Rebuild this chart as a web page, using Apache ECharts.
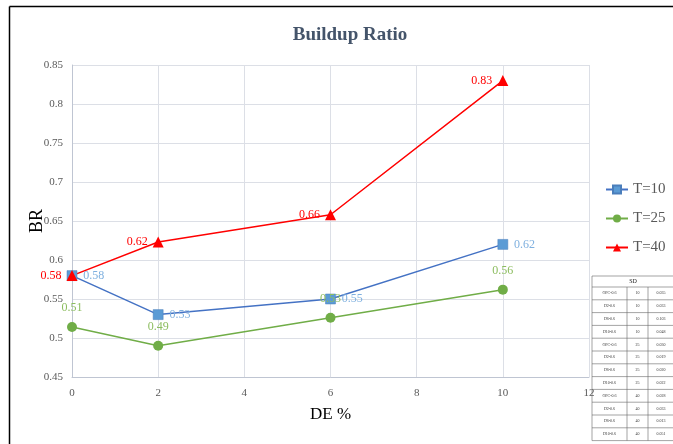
<!DOCTYPE html>
<html>
<head>
    <meta charset="utf-8">
    <title>Buildup Ratio</title>
    <script src="https://cdn.jsdelivr.net/npm/echarts@6/dist/echarts.min.js"></script>
    <style>
        html, body { margin: 0; padding: 0; background: #fff; }
        #main { width: 673px; height: 444px; }
    </style>
</head>
<body>
<div id="main"></div>
<script>
    // x values (DE %)
    var deValues = [0, 2, 6, 10];
    // BR per temperature
    var t10 = [0.58, 0.53, 0.55, 0.62];
    var t25 = [0.514, 0.49, 0.526, 0.562];
    var t40 = [0.58, 0.623, 0.658, 0.83];

    // SD table
    var sdNames = ['OPC-0.6', 'D2-0.6', 'D6-0.6', 'D10-0.6', 'OPC-0.6', 'D2-0.6', 'D6-0.6', 'D10-0.6', 'OPC-0.6', 'D2-0.6', 'D6-0.6', 'D10-0.6'];
    var sdT = [10, 10, 10, 10, 25, 25, 25, 25, 40, 40, 40, 40];
    var sdValues = ['0.035', '0.033', '0.103', '0.048', '0.030', '0.019', '0.020', '0.022', '0.028', '0.033', '0.013', '0.051'];

    var serif = '"Liberation Serif", "DejaVu Serif", serif';

    function pairs(ys) {
        return deValues.map(function (x, i) { return [x, ys[i]]; });
    }

    // build the little SD table out of graphic elements
    function sdTable() {
        var x0 = 592, y0 = 276, headH = 11, rowH = 12.8;
        var cols = [x0, 627, 648, 674];
        var els = [];
        var line = { stroke: '#666', lineWidth: 0.6 };
        els.push({ type: 'rect', shape: { x: x0, y: y0, width: cols[3] - x0, height: headH + rowH * sdNames.length }, style: { fill: '#fff', stroke: '#666', lineWidth: 0.6 } });
        els.push({ type: 'text', style: { text: 'SD', x: (x0 + cols[3]) / 2, y: y0 + headH / 2, align: 'center', verticalAlign: 'middle', font: '6px ' + serif, fill: '#222' } });
        for (var i = 0; i < sdNames.length; i++) {
            var y = y0 + headH + i * rowH;
            els.push({ type: 'line', shape: { x1: x0, y1: y, x2: cols[3], y2: y }, style: line });
            var cells = [sdNames[i], String(sdT[i]), sdValues[i]];
            for (var c = 0; c < 3; c++) {
                els.push({ type: 'text', style: { text: cells[c], x: (cols[c] + cols[c + 1]) / 2, y: y + rowH / 2, align: 'center', verticalAlign: 'middle', font: '4px ' + serif, fill: '#333' } });
            }
        }
        els.push({ type: 'line', shape: { x1: cols[1], y1: y0 + headH, x2: cols[1], y2: y0 + headH + rowH * sdNames.length }, style: line });
        els.push({ type: 'line', shape: { x1: cols[2], y1: y0 + headH, x2: cols[2], y2: y0 + headH + rowH * sdNames.length }, style: line });
        return els;
    }

    var myChart = echarts.init(document.getElementById('main'));
    var graphics = [
        { type: 'line', shape: { x1: 9.5, y1: 6.5, x2: 673, y2: 6.5 }, style: { stroke: '#000', lineWidth: 1.5 } },
        { type: 'line', shape: { x1: 9.5, y1: 6.5, x2: 9.5, y2: 444 }, style: { stroke: '#000', lineWidth: 1.5 } }
    ].concat(sdTable());

    var option = {
        animation: false,
        title: {
            text: 'Buildup Ratio',
            left: 345, top: 21, textAlign: 'center',
            textStyle: { fontFamily: serif, fontWeight: 'bold', fontSize: 19, color: '#44546a' }
        },
        legend: {
            orient: 'vertical',
            left: 600, top: 177,
            itemGap: 14, itemWidth: 22, itemHeight: 10,
            textStyle: { fontFamily: serif, fontSize: 15, color: '#595959' },
            data: ['T=10', 'T=25', 'T=40']
        },
        grid: { left: 72, right: 84, top: 65, bottom: 67, containLabel: false },
        xAxis: {
            type: 'value', min: 0, max: 12, interval: 2,
            name: 'DE %', nameLocation: 'middle', nameGap: 29,
            nameTextStyle: { fontFamily: serif, fontSize: 17, color: '#000' },
            axisLine: { lineStyle: { color: '#bfc5d2' } },
            axisTick: { show: false },
            axisLabel: { fontFamily: serif, fontSize: 11, color: '#595959', margin: 11 },
            splitLine: { show: true, lineStyle: { color: '#dcdfe6' } }
        },
        yAxis: {
            type: 'value', min: 0.45, max: 0.85, interval: 0.05,
            name: 'BR', nameLocation: 'middle', nameGap: 26, nameMoveOverlap: false,
            nameTextStyle: { fontFamily: serif, fontSize: 18, color: '#000' },
            axisLine: { show: true, lineStyle: { color: '#bfc5d2' } },
            axisTick: { show: false },
            axisLabel: { fontFamily: serif, fontSize: 11, color: '#595959', margin: 9 },
            splitLine: { show: true, lineStyle: { color: '#dcdfe6' } }
        },
        series: [{
            name: 'T=10', type: 'line', data: pairs(t10),
            symbol: 'rect', symbolSize: 10,
            lineStyle: { color: '#4472c4', width: 1.5 },
            itemStyle: { color: '#5b9bd5', borderColor: '#4a7ebb', borderWidth: 0.5 },
            label: { show: true, position: 'right', distance: 6, fontFamily: serif, fontSize: 12, color: '#7fb0df',
                formatter: function (p) { return p.value[1].toFixed(2); } }
        }, {
            name: 'T=25', type: 'line', data: pairs(t25),
            symbol: 'circle', symbolSize: 10,
            lineStyle: { color: '#70ad47', width: 1.5 },
            itemStyle: { color: '#70ad47' },
            label: { show: true, position: 'top', distance: 8, fontFamily: serif, fontSize: 12, color: '#8cbd5f',
                formatter: function (p) { return p.value[1].toFixed(2); } }
        }, {
            name: 'T=40', type: 'line', data: pairs(t40),
            symbol: 'triangle', symbolSize: 11,
            lineStyle: { color: '#ff0000', width: 1.5 },
            itemStyle: { color: '#ff0000' },
            label: { show: true, position: 'left', distance: 5, fontFamily: serif, fontSize: 12, color: '#ff0000',
                formatter: function (p) { return p.value[1].toFixed(2); } }
        }],
        graphic: graphics
    };
    myChart.setOption(option);
</script>
</body>
</html>
